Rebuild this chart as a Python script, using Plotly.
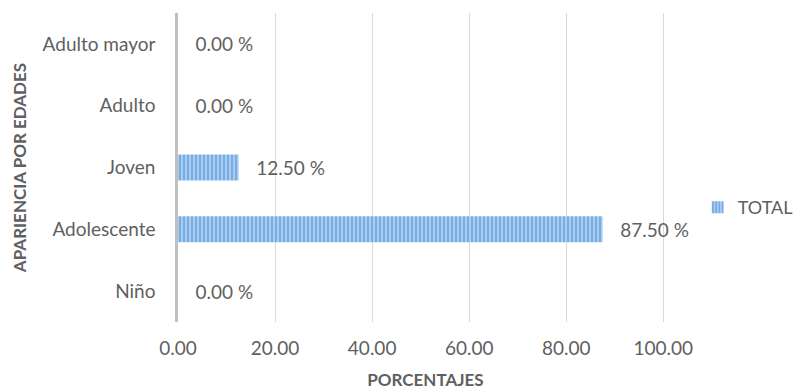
import plotly.graph_objects as go

categories = ["Niño", "Adolescente", "Joven", "Adulto", "Adulto mayor"]
values = [0.00, 87.50, 12.50, 0.00, 0.00]
labels = ["0.00 %", "87.50 %", "12.50 %", "0.00 %", "0.00 %"]
tick_vals = [0, 20, 40, 60, 80, 100]
tick_text = ["0.00", "20.00", "40.00", "60.00", "80.00", "100.00"]

FONT = "Lato, Open Sans, sans-serif"
GRAY = "#5f5f5f"

fig = go.Figure()
fig.add_trace(go.Bar(
    y=categories, x=values, orientation="h", name="TOTAL",
    text=["   " + t for t in labels], textposition="outside", cliponaxis=False,
    textfont=dict(family=FONT, size=19, color=GRAY),
    marker=dict(color="#A9CDF0", line=dict(width=0),
                pattern=dict(shape="|", fgcolor="#4A8BD6", size=4, solidity=0.5)),
    width=0.42,
))
fig.update_layout(
    width=804, height=390,
    margin=dict(l=178, r=131, t=13, b=68, autoexpand=False),
    paper_bgcolor="white", plot_bgcolor="white",
    font=dict(family=FONT, size=19, color=GRAY),
    showlegend=True,
    legend=dict(x=1.05, y=0.37, xanchor="left", yanchor="middle",
                itemwidth=30, borderwidth=0, bgcolor="rgba(0,0,0,0)",
                font=dict(family=FONT, size=18, color=GRAY)),
    xaxis=dict(range=[0, 102], tickvals=tick_vals, ticktext=tick_text,
               automargin=False,
               showgrid=True, gridcolor="#D9D9D9", gridwidth=1.3,
               zeroline=False, showline=False, ticklabelstandoff=13,
               title=dict(text="<b>PORCENTAJES</b>", font=dict(family=FONT, size=17, color=GRAY), standoff=16),
               tickfont=dict(size=19, color=GRAY)),
    yaxis=dict(showgrid=False, zeroline=False, automargin=False,
               showline=True, linecolor="#BFBFBF", linewidth=2.5,
               ticks="", ticklabelstandoff=16,
               title=dict(text="<b>APARIENCIA POR EDADES</b>", font=dict(family=FONT, size=17, color=GRAY), standoff=12),
               tickfont=dict(size=19, color=GRAY)),
)
fig.write_html("out.html")
